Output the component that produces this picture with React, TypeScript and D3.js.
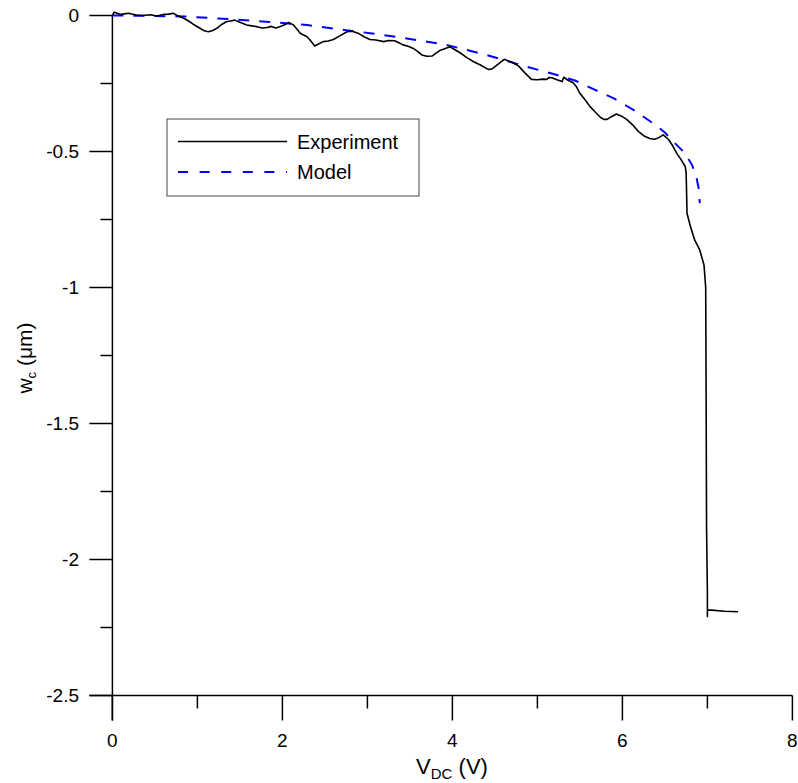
import React from "react";
import * as d3 from "d3";

const expV = [0, 0.02, 0.1, 0.19, 0.28, 0.36, 0.45, 0.52, 0.6, 0.66, 0.72, 0.76, 0.84, 0.91, 0.97, 1.03, 1.08, 1.13, 1.18, 1.23, 1.28, 1.34, 1.39, 1.44, 1.5, 1.58, 1.64, 1.7, 1.76, 1.82, 1.87, 1.92, 1.97, 2.02, 2.07, 2.1, 2.13, 2.17, 2.21, 2.25, 2.29, 2.33, 2.38, 2.43, 2.48, 2.54, 2.6, 2.68, 2.76, 2.82, 2.89, 2.96, 3.03, 3.1, 3.19, 3.25, 3.32, 3.37, 3.42, 3.48, 3.54, 3.59, 3.64, 3.7, 3.76, 3.8, 3.85, 3.91, 3.97, 4.03, 4.09, 4.17, 4.25, 4.33, 4.42, 4.46, 4.5, 4.55, 4.61, 4.7, 4.78, 4.85, 4.93, 5.0, 5.06, 5.11, 5.14, 5.17, 5.23, 5.29, 5.31, 5.36, 5.42, 5.46, 5.5, 5.56, 5.62, 5.68, 5.74, 5.78, 5.82, 5.87, 5.93, 5.99, 6.05, 6.12, 6.19, 6.25, 6.32, 6.38, 6.43, 6.48, 6.54, 6.59, 6.64, 6.69, 6.74, 6.75, 6.755, 6.76, 6.8, 6.85, 6.91, 6.96, 6.98, 6.985, 6.99, 7.0, 7.0, 7.0, 7.05, 7.2, 7.36];
const expW = [0, 0.012, 0.004, 0.008, 0.002, 0.0, 0.003, -0.002, 0.004, 0.005, 0.008, 0.0, -0.01, -0.023, -0.036, -0.047, -0.056, -0.06, -0.055, -0.047, -0.034, -0.023, -0.02, -0.017, -0.025, -0.035, -0.038, -0.041, -0.046, -0.044, -0.04, -0.046, -0.041, -0.035, -0.026, -0.03, -0.035, -0.05, -0.065, -0.072, -0.078, -0.092, -0.112, -0.104, -0.096, -0.094, -0.088, -0.074, -0.06, -0.058, -0.065, -0.078, -0.088, -0.09, -0.096, -0.092, -0.093, -0.1, -0.108, -0.113, -0.121, -0.132, -0.145, -0.15, -0.149, -0.14, -0.129, -0.122, -0.115, -0.126, -0.137, -0.155, -0.17, -0.182, -0.198, -0.197, -0.188, -0.176, -0.161, -0.172, -0.186, -0.21, -0.235, -0.236, -0.234, -0.235, -0.228, -0.229, -0.236, -0.243, -0.227, -0.238, -0.247, -0.262, -0.286, -0.31, -0.335, -0.355, -0.374, -0.382, -0.382, -0.372, -0.362, -0.37, -0.382, -0.402, -0.427, -0.442, -0.452, -0.455, -0.449, -0.439, -0.455, -0.478, -0.507, -0.53, -0.556, -0.58, -0.65, -0.727, -0.775, -0.825, -0.862, -0.917, -1.0, -1.4, -1.879, -2.124, -2.21, -2.186, -2.186, -2.19, -2.192];

const modV = [0, 0.4, 0.87, 1.42, 1.85, 2.29, 2.65, 3.03, 3.5, 3.93, 4.4, 4.87, 5.19, 5.45, 5.66, 5.9, 6.13, 6.36, 6.5, 6.6, 6.7, 6.76, 6.82, 6.87, 6.9, 6.91];
const modW = [0, -0.001, -0.004, -0.014, -0.024, -0.035, -0.05, -0.065, -0.086, -0.108, -0.145, -0.188, -0.215, -0.24, -0.271, -0.305, -0.347, -0.396, -0.43, -0.464, -0.495, -0.519, -0.55, -0.593, -0.64, -0.69];

const xMajor = [0, 2, 4, 6, 8];
const xMinor = [1, 3, 5, 7];
const yMajor = [0, -0.5, -1, -1.5, -2, -2.5];
const yMinor = [-0.25, -0.75, -1.25, -1.75, -2.25];

const FONT = "Liberation Sans, Arial, sans-serif";

export default function App() {
  const x = d3.scaleLinear().domain([0, 8]).range([112.4, 792.4]);
  const y = d3.scaleLinear().domain([-2.5, 0]).range([695.5, 15.5]);
  const expData = expV.map((v, i) => [v, expW[i]] as [number, number]);
  const modData = modV.map((v, i) => [v, modW[i]] as [number, number]);
  const line = d3
    .line<[number, number]>()
    .x((d) => x(d[0]))
    .y((d) => y(d[1]));
  const x0 = x(0);
  const yb = y(-2.5);
  return (
    <svg
      width={798}
      height={783}
      style={{ position: "absolute", left: 0, top: 0, background: "#fff" }}
      fontFamily={FONT}
    >
      <rect width={798} height={783} fill="#fff" />
      {/* axes */}
      <line x1={x0} x2={x0} y1={y(0)} y2={yb + 25} stroke="#000" strokeWidth={1.5} />
      <line x1={x0 - 23} x2={x(8)} y1={yb} y2={yb} stroke="#000" strokeWidth={1.5} />
      {xMajor.map((t) => (
        <g key={"xm" + t}>
          <line x1={x(t)} x2={x(t)} y1={yb} y2={yb + 25} stroke="#000" strokeWidth={1.5} />
          <text x={x(t)} y={yb + 51} fontSize={19} textAnchor="middle">
            {t}
          </text>
        </g>
      ))}
      {xMinor.map((t) => (
        <line key={"xn" + t} x1={x(t)} x2={x(t)} y1={yb} y2={yb + 13} stroke="#000" strokeWidth={1.5} />
      ))}
      {yMajor.map((t) => (
        <g key={"ym" + t}>
          <line x1={x0 - 23} x2={x0} y1={y(t)} y2={y(t)} stroke="#000" strokeWidth={1.5} />
          <text x={79} y={y(t)} fontSize={19} textAnchor="end" dominantBaseline="central">
            {t === 0 ? "0" : String(t)}
          </text>
        </g>
      ))}
      {yMinor.map((t) => (
        <line key={"yn" + t} x1={x0 - 12} x2={x0} y1={y(t)} y2={y(t)} stroke="#000" strokeWidth={1.5} />
      ))}
      {/* axis titles */}
      <text x={452} y={774} fontSize={22} textAnchor="middle">
        V<tspan fontSize={15} dy={5}>DC</tspan>
        <tspan dy={-5}> (V)</tspan>
      </text>
      <text transform="translate(32,358) rotate(-90)" fontSize={21} textAnchor="middle">
        w<tspan fontSize={13} dy={4}>c</tspan>
        <tspan dy={-4}> (μm)</tspan>
      </text>
      {/* data */}
      <path d={line(modData) || ""} fill="none" stroke="#0000ff" strokeWidth={2} strokeDasharray="11,10" />
      <path d={line(expData) || ""} fill="none" stroke="#000" strokeWidth={1.6} strokeLinejoin="round" />
      {/* legend */}
      <rect x={167} y={119} width={252} height={77} fill="#fff" stroke="#444" strokeWidth={1} />
      <line x1={178} x2={287} y1={141.5} y2={141.5} stroke="#000" strokeWidth={1.6} />
      <line x1={178} x2={287} y1={172} y2={172} stroke="#0000ff" strokeWidth={2} strokeDasharray="10,11.6" />
      <text x={297} y={141.5} fontSize={20} dominantBaseline="central">
        Experiment
      </text>
      <text x={297} y={172} fontSize={20} dominantBaseline="central">
        Model
      </text>
    </svg>
  );
}
